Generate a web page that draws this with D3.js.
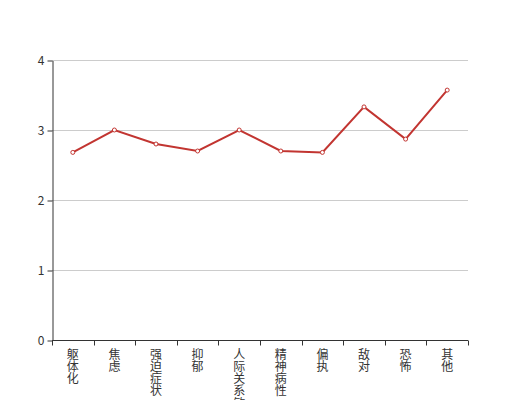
<!DOCTYPE html>
<html>
<head>
<meta charset="utf-8">
<script src="https://cdn.jsdelivr.net/npm/d3@7"></script>
<style>
  body { margin: 0; background: #fff; }
  text { font-family: "Noto Sans CJK SC", sans-serif; }
</style>
</head>
<body>
<div id="mainDiv"></div>
<script>
'use strict';

// dados
var categories = ['躯体化', '焦虑', '强迫症状', '抑郁', '人际关系敏感', '精神病性', '偏执', '敌对', '恐怖', '其他'];
var values = [2.68, 3.00, 2.80, 2.70, 3.00, 2.70, 2.68, 3.33, 2.87, 3.57];
var yTicks = [0, 1, 2, 3, 4];

var chart = {};
chart.w = 520;
chart.h = 400;
chart.margins = {top: 60, bottom: 60, left: 52, right: 52};
chart.color = '#c23531';

chart.run = function()
{
    var svg = d3.select('#mainDiv').append('svg')
        .attr('width', chart.w)
        .attr('height', chart.h);

    var x = d3.scaleBand()
        .domain(categories)
        .range([chart.margins.left, chart.w - chart.margins.right]);

    var y = d3.scaleLinear()
        .domain([0, 4])
        .range([chart.h - chart.margins.bottom, chart.margins.top]);

    // grid
    svg.append('g')
        .selectAll('line')
        .data(yTicks.filter(function(d) { return d > 0; }))
        .enter().append('line')
        .attr('x1', chart.margins.left)
        .attr('x2', chart.w - chart.margins.right)
        .attr('y1', function(d) { return y(d) + 0.5; })
        .attr('y2', function(d) { return y(d) + 0.5; })
        .attr('stroke', '#ccc');

    // eixo y
    var yAxis = svg.append('g')
        .attr('transform', 'translate(' + (chart.margins.left + 0.5) + ',0.5)')
        .call(d3.axisLeft(y).tickValues(yTicks).tickFormat(d3.format('d'))
            .tickSize(5).tickPadding(3).tickSizeOuter(0));
    yAxis.select('.domain').attr('stroke', '#333');
    yAxis.selectAll('.tick line').attr('stroke', '#333');
    yAxis.selectAll('.tick text').attr('fill', '#333')
        .style('font-size', '12px')
        .style('font-family', '"Noto Sans CJK SC", sans-serif');

    // eixo x
    var xAxisGroup = svg.append('g')
        .attr('transform', 'translate(0,' + (y(0) + 0.5) + ')');
    xAxisGroup.append('line')
        .attr('x1', chart.margins.left)
        .attr('x2', chart.w - chart.margins.right)
        .attr('stroke', '#333');
    var bounds = categories.map(function(d) { return x(d); }).concat([x.range()[1]]);
    xAxisGroup.selectAll('.tk')
        .data(bounds)
        .enter().append('line')
        .attr('x1', function(d) { return Math.round(d) + 0.5; })
        .attr('x2', function(d) { return Math.round(d) + 0.5; })
        .attr('y1', 0)
        .attr('y2', 5)
        .attr('stroke', '#333');

    // labels verticais, um caractere por linha
    var lbl = xAxisGroup.selectAll('.lbl')
        .data(categories)
        .enter().append('text')
        .attr('fill', '#333')
        .style('font-size', '12px')
        .attr('text-anchor', 'middle');
    lbl.selectAll('tspan')
        .data(function(d) { return d.split('').map(function(c) { return {c: c, cat: d}; }); })
        .enter().append('tspan')
        .attr('x', function(d) { return x(d.cat) + x.bandwidth() / 2; })
        .attr('y', function(d, i) { return 18 + i * 12.3; })
        .text(function(d) { return d.c; });

    // linha
    var data = categories.map(function(c, i) { return {c: c, v: values[i]}; });
    svg.append('path')
        .datum(data)
        .attr('fill', 'none')
        .attr('stroke', chart.color)
        .attr('stroke-width', 2)
        .attr('d', d3.line()
            .x(function(d) { return x(d.c) + x.bandwidth() / 2; })
            .y(function(d) { return y(d.v); }));

    svg.selectAll('.pt')
        .data(data)
        .enter().append('circle')
        .attr('cx', function(d) { return x(d.c) + x.bandwidth() / 2; })
        .attr('cy', function(d) { return y(d.v); })
        .attr('r', 2)
        .attr('fill', '#fff')
        .attr('stroke', chart.color)
        .attr('stroke-width', 1);
}

window.onload = chart.run;
</script>
</body>
</html>
